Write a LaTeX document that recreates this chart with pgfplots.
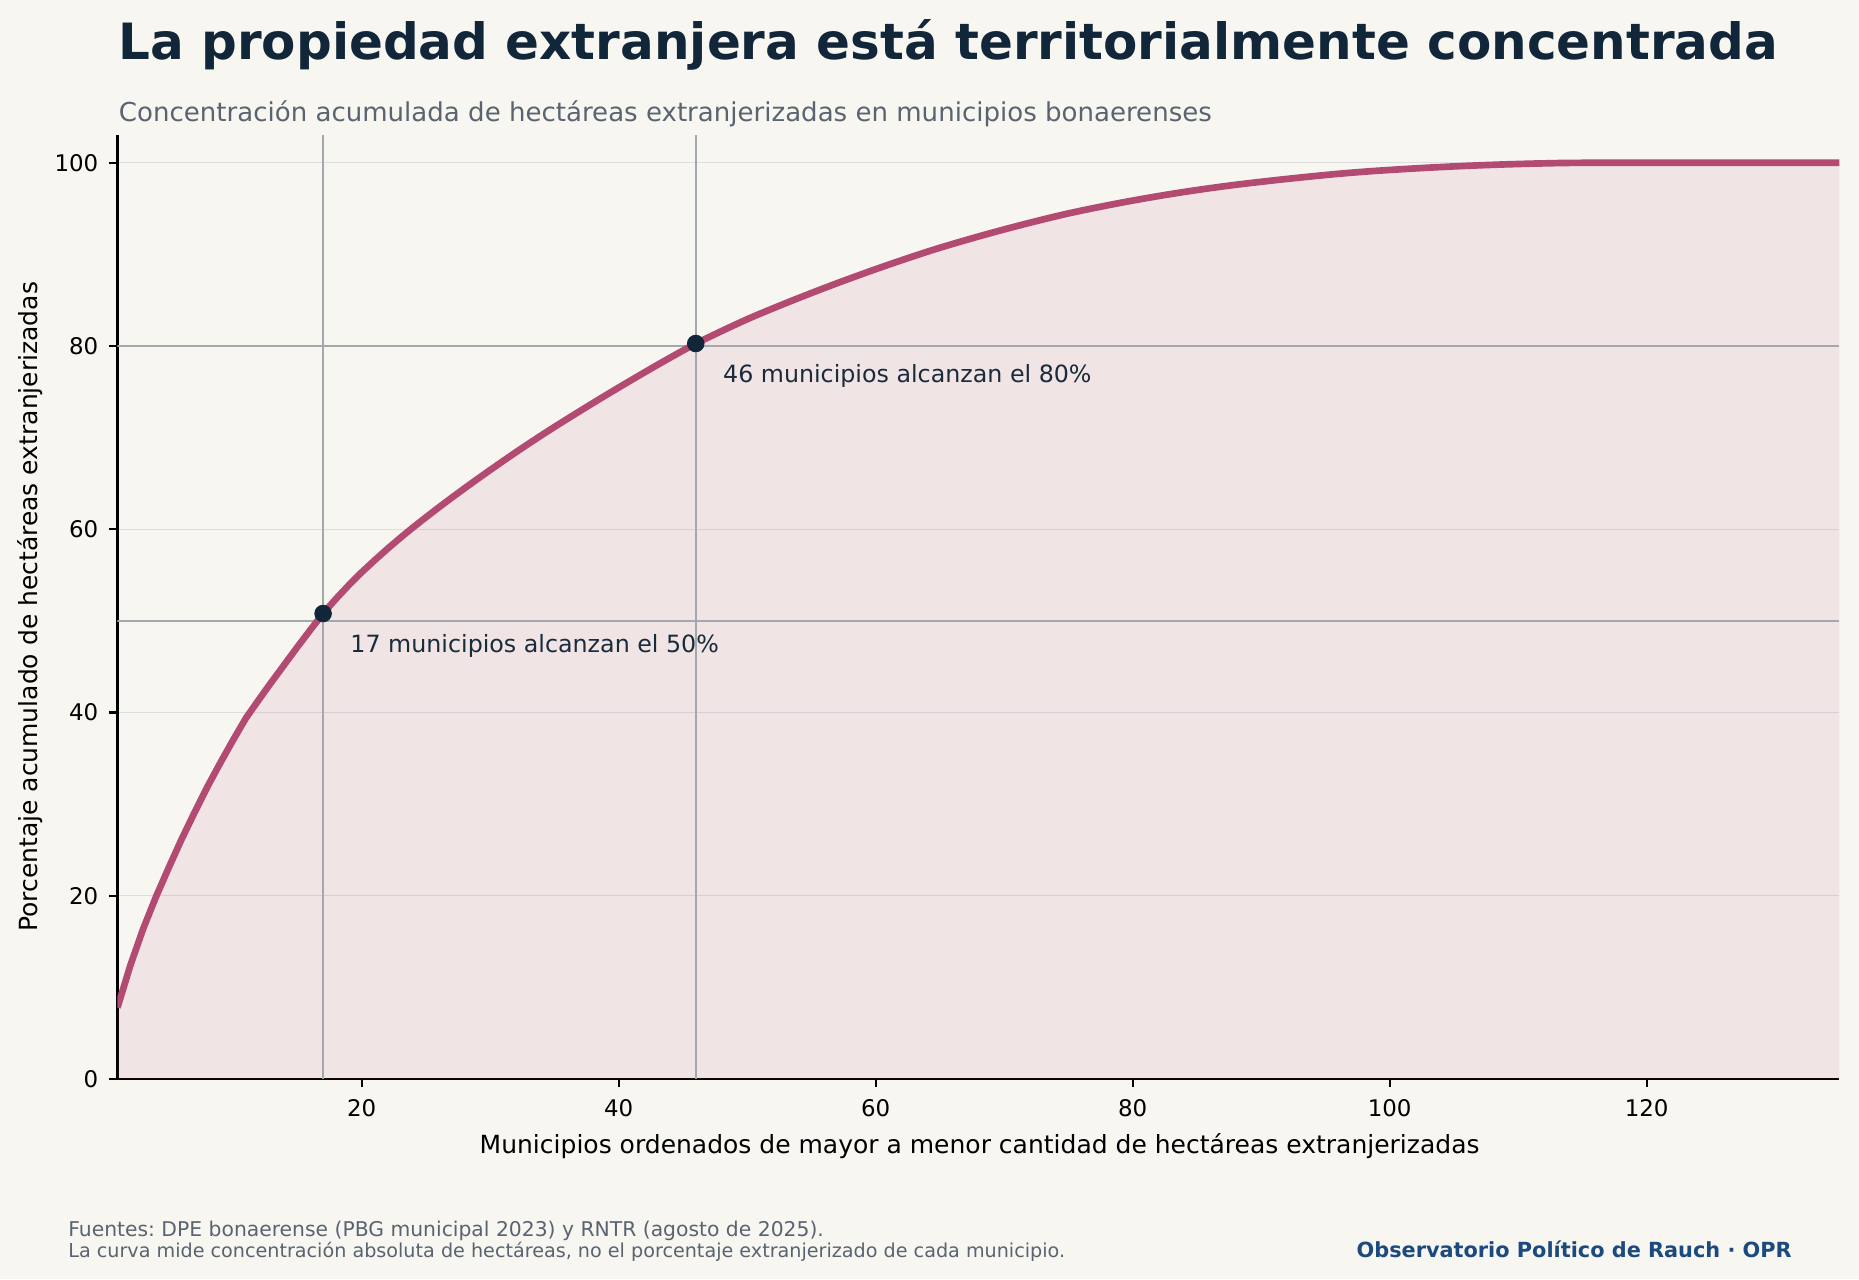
\documentclass[border=0pt]{standalone}
\usepackage{pgfplots}
\pgfplotsset{compat=1.18}
\usepackage{pgfplotstable}
\usepackage{fontspec}
\setmainfont{DejaVu Sans}
\frenchspacing
\definecolor{bgc}{HTML}{F7F6F1}
\definecolor{curve}{HTML}{B34A72}
\definecolor{navy}{HTML}{12263A}
\definecolor{subg}{HTML}{5A6470}
\definecolor{refg}{HTML}{A3A8AE}
\definecolor{gridg}{HTML}{DCDDDE}
\definecolor{annot}{HTML}{1A2B3C}
\definecolor{brand}{HTML}{1C4A7E}
\pgfplotstableread{
x y
1 7.8
2 12.4
3 16.4
4 19.9
5 23.1
6 26.2
7 29.1
8 31.9
9 34.5
10 37.0
11 39.4
12 41.4
13 43.35
14 45.25
15 47.15
16 49.0
17 50.8
18 52.4
19 53.9
20 55.3
21 56.6
22 57.85
23 59.05
24 60.2
25 61.3
26 62.38
27 63.43
28 64.46
29 65.47
30 66.46
31 67.44
32 68.40
33 69.34
34 70.26
35 71.16
36 72.04
37 72.91
38 73.77
39 74.62
40 75.46
41 76.29
42 77.11
43 77.92
44 78.72
45 79.50
46 80.27
47 80.95
48 81.62
49 82.28
50 82.92
51 83.52
52 84.10
53 84.67
54 85.23
55 85.78
56 86.32
57 86.85
58 87.37
59 87.88
60 88.38
61 88.87
62 89.35
63 89.82
64 90.28
65 90.72
66 91.14
67 91.55
68 91.95
69 92.34
70 92.72
71 93.09
72 93.45
73 93.80
74 94.14
75 94.47
76 94.77
77 95.06
78 95.34
79 95.61
80 95.87
81 96.12
82 96.36
83 96.59
84 96.81
85 97.02
86 97.22
87 97.41
88 97.59
89 97.76
90 97.92
91 98.08
92 98.23
93 98.38
94 98.52
95 98.66
96 98.79
97 98.91
98 99.02
99 99.12
100 99.21
101 99.30
102 99.38
103 99.46
104 99.53
105 99.60
106 99.66
107 99.72
108 99.77
109 99.82
110 99.86
111 99.90
112 99.93
113 99.96
114 99.98
115 99.99
116 100
117 100
118 100
119 100
120 100
121 100
122 100
123 100
124 100
125 100
126 100
127 100
128 100
129 100
130 100
131 100
132 100
133 100
134 100
135 100
}\curvedata
\begin{document}
\begin{tikzpicture}
\fill[bgc] (0,0) rectangle (892.32pt,613.92pt);
\begin{axis}[
  at={(56.4pt,96pt)}, anchor=south west,
  scale only axis, width=826.5pt, height=453.0pt,
  xmin=1, xmax=135, ymin=0, ymax=103,
  axis lines=left,
  axis line style={-, black, line width=1pt},
  xtick={20,40,60,80,100,120},
  ytick={0,20,40,60,80,100},
  tick align=outside,
  major tick length=3.84pt,
  tick style={black, line width=1pt},
  ymajorgrids,
  grid style={gridg, line width=0.7pt},
  /pgf/number format/assume math mode=true,
  ticklabel style={font=\fontsize{11}{13}\selectfont, text=black},
  xticklabel style={inner sep=0pt, anchor=north, yshift=-6.0pt},
  yticklabel style={inner sep=0pt, anchor=east, xshift=-5.2pt},
]
\addplot[draw=none, fill=curve, fill opacity=0.1] table[x=x,y=y]{\curvedata} \closedcycle;
\addplot[refg, line width=0.9pt] coordinates {(17,0) (17,103)};
\addplot[refg, line width=0.9pt] coordinates {(46,0) (46,103)};
\addplot[refg, line width=0.9pt] coordinates {(1,50) (135,50)};
\addplot[refg, line width=0.9pt] coordinates {(1,80) (135,80)};
\addplot[curve, line width=3.2pt, line join=round] table[x=x,y=y]{\curvedata};
\addplot[only marks, mark=*, mark size=4pt, mark options={fill=navy, draw=navy}] coordinates {(17,50.8) (46,80.27)};
\node[anchor=base west, inner sep=0pt, text=annot, font=\fontsize{11.4}{13}\selectfont] at (axis cs:19.1,46.5) {17 municipios alcanzan el 50\%};
\node[anchor=base west, inner sep=0pt, text=annot, font=\fontsize{11.4}{13}\selectfont] at (axis cs:48.1,76.0) {46 municipios alcanzan el 80\%};
\end{axis}
\node[anchor=base west, inner sep=0pt, text=navy, font=\fontsize{24}{28}\selectfont\bfseries] at (56.64pt,585.5pt) {La propiedad extranjera está territorialmente concentrada};
\node[anchor=base west, inner sep=0pt, text=subg, font=\fontsize{12.5}{15}\selectfont] at (56.9pt,555.5pt) {Concentración acumulada de hectáreas extranjerizadas en municipios bonaerenses};
\node[anchor=base, inner sep=0pt, font=\fontsize{12}{14}\selectfont] at (470.2pt,60.3pt) {Municipios ordenados de mayor a menor cantidad de hectáreas extranjerizadas};
\node[anchor=base, rotate=90, inner sep=0pt, font=\fontsize{12}{14}\selectfont] at (17.9pt,322.6pt) {Porcentaje acumulado de hectáreas extranjerizadas};
\node[anchor=base west, inner sep=0pt, text=subg, font=\fontsize{9.75}{11}\selectfont] at (32.6pt,20.3pt) {Fuentes: DPE bonaerense (PBG municipal 2023) y RNTR (agosto de 2025).};
\node[anchor=base west, inner sep=0pt, text=subg, font=\fontsize{9.2}{10}\selectfont] at (32.6pt,10.4pt) {La curva mide concentración absoluta de hectáreas, no el porcentaje extranjerizado de cada municipio.};
\node[anchor=base east, inner sep=0pt, text=brand, font=\fontsize{10}{12}\selectfont\bfseries] at (860.2pt,10.4pt) {Observatorio Político de Rauch · OPR};
\end{tikzpicture}
\end{document}
